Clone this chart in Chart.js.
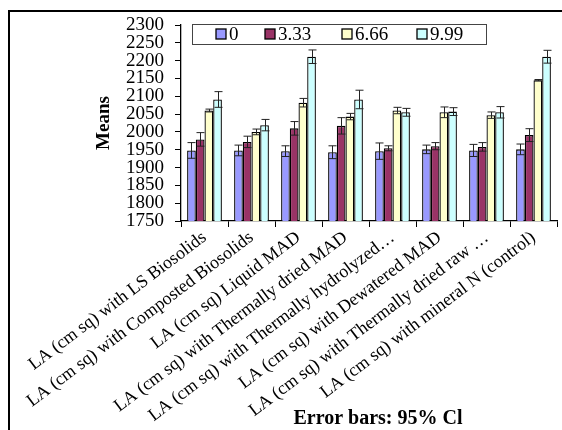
<!DOCTYPE html>
<html>
<head>
<meta charset="utf-8">
<title>Means</title>
<script src="https://cdn.jsdelivr.net/npm/chart.js@4.4.1/dist/chart.umd.min.js"></script>
<style>
  html, body { margin: 0; padding: 0; background: #fff; }
  #wrap { position: relative; width: 562px; height: 430px; }
</style>
</head>
<body>
<div id="wrap"><canvas id="myChart"></canvas></div>
<script>
// data
var categories = [
    'LA (cm sq) with LS Biosolids',
    'LA (cm sq) with Composted Biosolids',
    'LA (cm sq) Liquid MAD',
    'LA (cm sq) with Thermally dried MAD',
    'LA (cm sq) with Thermally hydrolyzed\u2026',
    'LA (cm sq) with Dewatered MAD',
    'LA (cm sq) with Thermally dried raw \u2026',
    'LA (cm sq) with mineral N (control)'
];
var levels = ['0', '3.33', '6.66', '9.99'];
var means0   = [1948, 1948, 1946, 1943, 1946, 1951, 1948, 1951];
var means333 = [1979, 1972, 2010, 2017, 1954, 1960, 1958, 1991];
var means666 = [2060, 2000, 2082, 2043, 2060, 2055, 2047, 2145];
var means999 = [2091, 2019, 2211, 2091, 2055, 2057, 2055, 2211];
// half width of 95% CI
var ci0   = [22, 15, 15, 18, 23, 12, 17, 15];
var ci333 = [19, 16, 19, 23, 7, 10, 12, 18];
var ci666 = [4, 8, 12, 9, 9, 15, 9, 2];
var ci999 = [22, 16, 19, 26, 11, 11, 16, 18];
var yTicks = [1750, 2300, 50];

var colors = ['#9999ff', '#993366', '#ffffcc', '#ccffff'];
var allMeans = [means0, means333, means666, means999];
var allCi = [ci0, ci333, ci666, ci999];
var serif = '"Liberation Serif", "Times New Roman", serif';

var datasets = [];
for (var i = 0; i < levels.length; i++) {
    datasets.push({
        label: levels[i],
        data: allMeans[i],
        ci: allCi[i],
        backgroundColor: colors[i],
        borderColor: '#000',
        borderWidth: 1.3,
        borderSkipped: false,
        barPercentage: 1.0,
        categoryPercentage: 0.74
    });
}

var extras = {
    id: 'extras',
    afterDatasetsDraw: function(chart) {
        var ctx = chart.ctx;
        var y = chart.scales.y;
        ctx.save();
        ctx.strokeStyle = '#222';
        ctx.lineWidth = 1;
        chart.data.datasets.forEach(function(ds, di) {
            var meta = chart.getDatasetMeta(di);
            meta.data.forEach(function(bar, j) {
                var v = ds.data[j], e = ds.ci[j];
                var x = Math.round(bar.x) + 0.5;
                var t = y.getPixelForValue(v + e), b = y.getPixelForValue(v - e);
                ctx.beginPath();
                ctx.moveTo(x, t); ctx.lineTo(x, b);
                ctx.moveTo(x - 4, t); ctx.lineTo(x + 4, t);
                ctx.moveTo(x - 4, b); ctx.lineTo(x + 4, b);
                ctx.stroke();
            });
        });
        ctx.restore();
    },
    afterDraw: function(chart) {
        var ctx = chart.ctx;
        ctx.save();
        // legend box
        ctx.fillStyle = '#fff';
        ctx.fillRect(192, 24, 295, 20);
        ctx.strokeStyle = '#444';
        ctx.lineWidth = 1;
        ctx.strokeRect(192.5, 24.5, 294, 20);
        var xs = [216, 265, 342, 417];
        ctx.font = '19px ' + serif;
        ctx.textBaseline = 'middle';
        for (var i = 0; i < levels.length; i++) {
            ctx.fillStyle = colors[i];
            ctx.fillRect(xs[i], 29, 10, 10);
            ctx.strokeStyle = '#000';
            ctx.lineWidth = 1.3;
            ctx.strokeRect(xs[i], 29, 10, 10);
            ctx.fillStyle = '#000';
            ctx.fillText(levels[i], xs[i] + 13, 35);
        }
        // footer
        ctx.font = 'bold 20px ' + serif;
        ctx.textAlign = 'center';
        ctx.fillText('Error bars: 95% Cl', 378, 419);
        // outer frame
        ctx.strokeStyle = '#000';
        ctx.lineWidth = 2;
        ctx.strokeRect(9, 11, 600, 500);
        ctx.restore();
    }
};

var ctx = document.getElementById('myChart');
var myChart = new Chart(ctx, {
    type: 'bar',
    data: { labels: categories, datasets: datasets },
    options: {
        responsive: true,
        maintainAspectRatio: false,
        animation: false,
        layout: { padding: { top: 25, right: 5, bottom: 0, left: 0 } },
        plugins: {
            legend: { display: false },
            tooltip: { enabled: false }
        },
        scales: {
            x: {
                grid: { display: true, drawOnChartArea: false, color: '#000', tickLength: 6, tickColor: '#000' },
                border: { color: '#000', width: 1.3 },
                ticks: {
                    autoSkip: false, minRotation: 37, maxRotation: 37, padding: 0,
                    color: '#000', font: { family: serif, size: 18 }
                },
                afterFit: function(s) { s.height = 209; }
            },
            y: {
                min: yTicks[0], max: yTicks[1],
                grid: { display: true, drawOnChartArea: false, color: '#000', tickLength: 6, tickColor: '#000' },
                border: { color: '#000', width: 1.3 },
                ticks: {
                    stepSize: yTicks[2], autoSkip: false, padding: 11, color: '#000',
                    font: { family: serif, size: 19 },
                    callback: function(v) { return String(v); }
                },
                title: {
                    display: true, text: 'Means', color: '#000',
                    font: { family: serif, size: 19, weight: 'bold' },
                    padding: { top: 93, bottom: 0 }
                },
                afterFit: function(s) { s.width = 181; }
            }
        }
    },
    plugins: [extras]
});
</script>
</body>
</html>
